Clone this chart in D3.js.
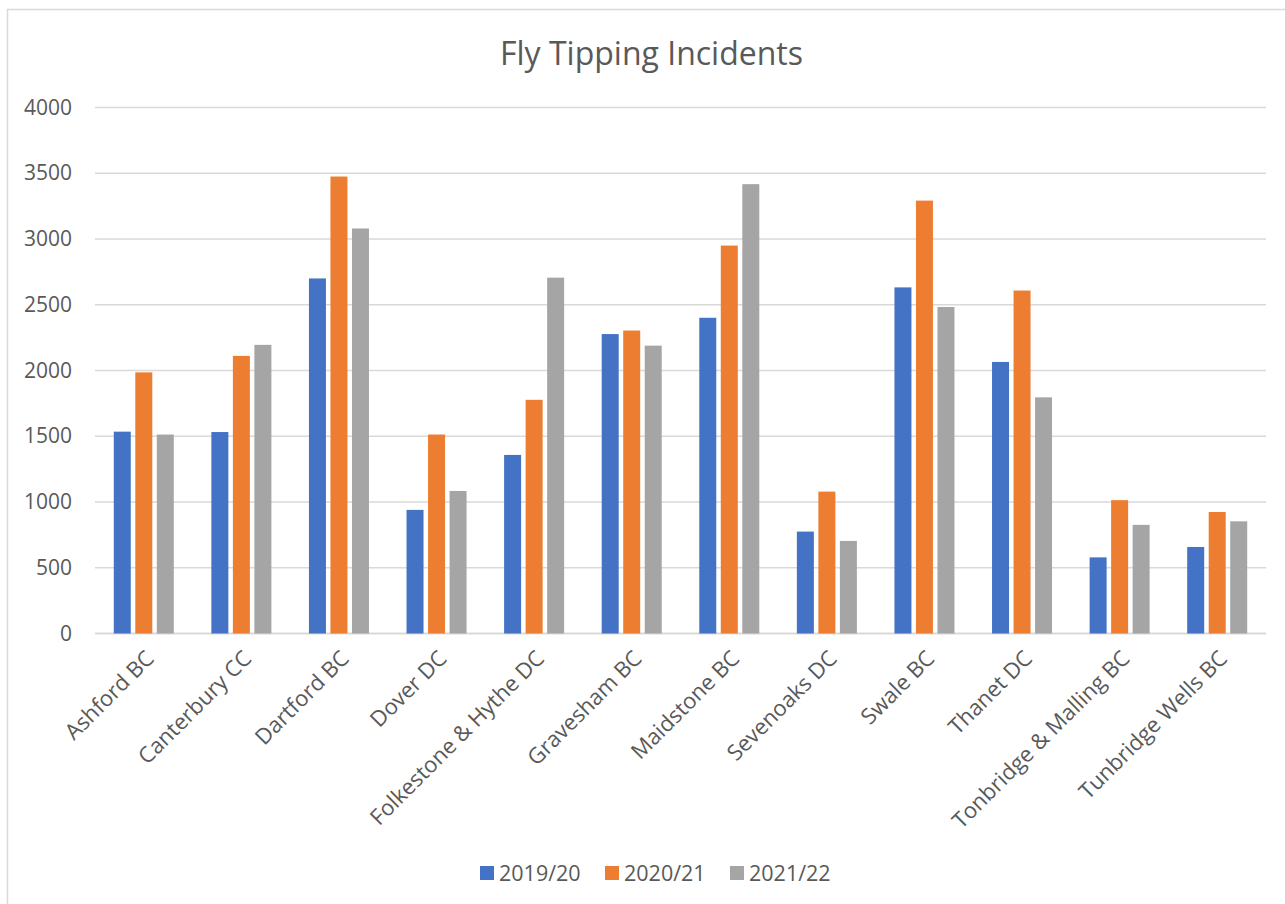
<!DOCTYPE html>
<html>
<head>
<meta charset="utf-8">
<script src="https://cdn.jsdelivr.net/npm/d3@7"></script>
<style>
    body { margin: 0; background: #fff; }
    svg { display: block; font-family: "Open Sans", sans-serif; }
</style>
</head>
<body>
<div id="chart"></div>
<script>
var width = 1285;
var height = 904;

// data
var councils = ["Ashford BC", "Canterbury CC", "Dartford BC", "Dover DC", "Folkestone & Hythe DC",
    "Gravesham BC", "Maidstone BC", "Sevenoaks DC", "Swale BC", "Thanet DC",
    "Tonbridge & Malling BC", "Tunbridge Wells BC"];
var years = ["2019/20", "2020/21", "2021/22"];
var y2019 = [1535, 1532, 2700, 940, 1358, 2277, 2401, 775, 2632, 2065, 579, 658];
var y2020 = [1986, 2111, 3475, 1513, 1777, 2304, 2950, 1079, 3292, 2608, 1014, 924];
var y2021 = [1513, 2195, 3080, 1084, 2706, 2189, 3417, 704, 2483, 1796, 826, 853];
var yTicks = [0, 500, 1000, 1500, 2000, 2500, 3000, 3500, 4000];

var colors = ["#4472C4", "#ED7D31", "#A5A5A5"];
var textColor = "#595959";
var gridColor = "#D9D9D9";

var margin = {left: 95, right: 19, top: 107.5, bottom: 270.5};

var svg = d3.select("#chart").append("svg")
    .attr("width", width)
    .attr("height", height);

// chart area border (runs off the right and bottom edges)
svg.append("rect")
    .attr("x", 7.5)
    .attr("y", 9.5)
    .attr("width", 1400)
    .attr("height", 1000)
    .attr("fill", "#fff")
    .attr("stroke", gridColor)
    .attr("stroke-width", 1.5);

svg.append("text")
    .attr("x", 651.5)
    .attr("y", 65)
    .attr("text-anchor", "middle")
    .style("font-size", "32px")
    .style("fill", textColor)
    .text("Fly Tipping Incidents");

var x0 = d3.scaleBand()
    .domain(councils)
    .range([margin.left, width - margin.right]);

var x1 = d3.scaleBand()
    .domain(years)
    .range([0, x0.bandwidth() * 0.615])
    .paddingInner(0.21);

var y = d3.scaleLinear()
    .domain([0, 4000])
    .range([height - margin.bottom, margin.top]);

// gridlines
svg.append("g")
    .selectAll("line")
    .data(yTicks)
    .enter().append("line")
    .attr("x1", margin.left)
    .attr("x2", width - margin.right)
    .attr("y1", function(d) { return y(d); })
    .attr("y2", function(d) { return y(d); })
    .attr("stroke", gridColor)
    .attr("stroke-width", function(d) { return d === 0 ? 2 : 1.5; });

var yAxis = svg.append("g")
    .attr("transform", "translate(" + (margin.left - 23) + ",0)")
    .call(d3.axisLeft(y).tickValues(yTicks).tickFormat(d3.format("d")).tickSize(0).tickPadding(0));
yAxis.select(".domain").remove();
yAxis.selectAll("text")
    .style("font-family", "Open Sans, sans-serif")
    .style("font-size", "21px")
    .style("fill", textColor);

var series = [y2019, y2020, y2021];
var groupOffset = (x0.bandwidth() - x1.range()[1]) / 2;

var groups = svg.append("g")
    .selectAll("g")
    .data(councils)
    .enter().append("g")
    .attr("transform", function(d) { return "translate(" + (x0(d) + groupOffset) + ",0)"; });

groups.selectAll("rect")
    .data(function(d, i) {
        return years.map(function(yr, j) { return {year: yr, value: series[j][i], j: j}; });
    })
    .enter().append("rect")
    .attr("x", function(d) { return x1(d.year); })
    .attr("width", x1.bandwidth())
    .attr("y", function(d) { return y(d.value); })
    .attr("height", function(d) { return y(0) - y(d.value); })
    .attr("fill", function(d) { return colors[d.j]; });

// category labels, rotated
var xAxis = svg.append("g")
    .attr("transform", "translate(0," + (height - margin.bottom) + ")")
    .call(d3.axisBottom(x0).tickSize(0).tickPadding(0));
xAxis.select(".domain").remove();
xAxis.selectAll("text")
    .attr("text-anchor", "end")
    .attr("dy", "0.35em")
    .attr("transform", "translate(6,21) rotate(-45)")
    .attr("y", 0)
    .style("font-family", "Open Sans, sans-serif")
    .style("font-size", "22px")
    .style("fill", textColor);

// legend
var legend = svg.append("g")
    .selectAll("g")
    .data(years)
    .enter().append("g")
    .attr("transform", function(d, i) { return "translate(" + (480 + i * 125) + ",866)"; });

legend.append("rect")
    .attr("width", 14)
    .attr("height", 14)
    .attr("fill", function(d, i) { return colors[i]; });

legend.append("text")
    .attr("x", 19)
    .attr("y", 7)
    .attr("dy", "0.35em")
    .style("font-size", "21.5px")
    .style("fill", textColor)
    .text(function(d) { return d; });
</script>
</body>
</html>
